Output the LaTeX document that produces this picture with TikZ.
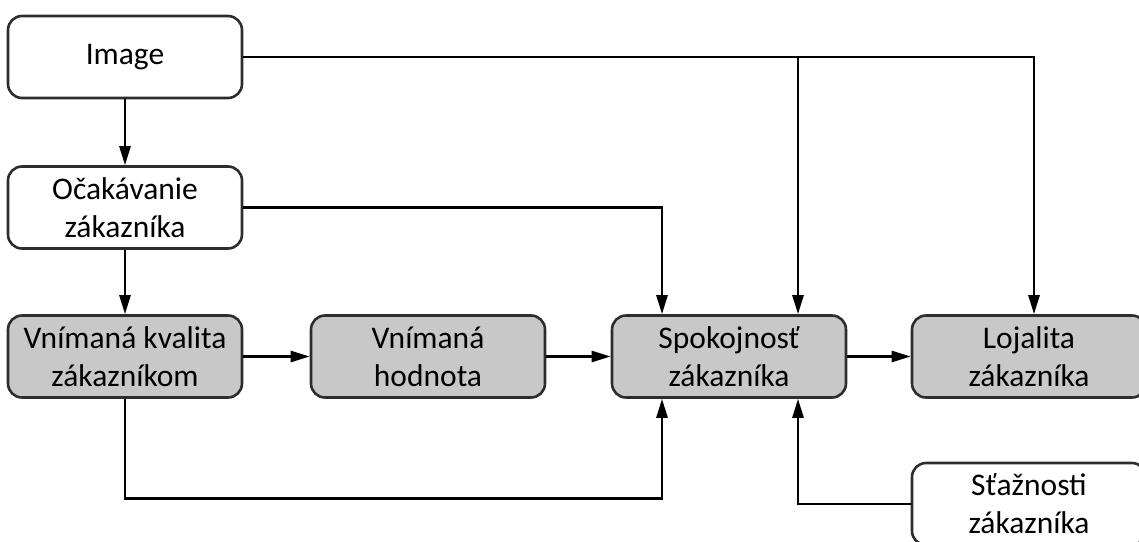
\documentclass[tikz,border=0pt]{standalone}
\usepackage{fontspec}
\setmainfont{Carlito}
\usetikzlibrary{arrows.meta,positioning}
\definecolor{bx}{RGB}{200,200,200}
\definecolor{ln}{RGB}{45,45,45}

\begin{document}
\begin{tikzpicture}[x=1pt,y=-1pt,
    box/.style={rectangle,draw=ln,rounded corners=14pt,minimum width=234pt,minimum height=82pt,inner sep=0pt,line width=2.6pt,align=center,font=\fontsize{31.5}{38}\selectfont,fill=#1},
    box/.default=white,
    arr/.style={-{Triangle[length=19pt,width=11pt]},line width=2.6pt,black},
]
\useasboundingbox (0,0) rectangle (1139,541);

% Left column
\node[box] (img) at (125,57) {Image};
\node[box] (ocak) at (125,207.5) {Očakávanie\\zákazníka};
\node[box=bx] (kval) at (125,356.5) {Vnímaná kvalita\\zákazníkom};

% Middle row
\node[box=bx] (hodn) at (428,356.5) {Vnímaná\\hodnota};
\node[box=bx] (spok) at (729,356.5) {Spokojnosť\\zákazníka};
\node[box=bx] (loj) at (1029,356.5) {Lojalita\\zákazníka};

% Complaints
\node[box] (staz) at (1029,504) {Sťažnosti\\zákazníka};

% Ports on Spokojnost
\coordinate (sa) at ([xshift=-67pt]spok.north);
\coordinate (sb) at ([xshift=69pt]spok.north);
\coordinate (sc) at ([xshift=-67pt]spok.south);
\coordinate (sd) at ([xshift=69pt]spok.south);
\coordinate (la) at ([xshift=5pt]loj.north);

% Connections
\draw[arr] (img) -- (ocak); \draw[arr] (ocak) -- (kval);
\draw[arr] (kval) -- (hodn); \draw[arr] (hodn) -- (spok); \draw[arr] (spok) -- (loj);
\draw[arr] (img.east) -| (la);
\draw[arr] (img.east -| sb) -- (sb);
\draw[arr] (ocak.east) -| (sa);
\draw[arr] (kval.south) -- ++(0,99.5) -| (sc);
\draw[arr] (staz.west) -| (sd);
\end{tikzpicture}
\end{document}
